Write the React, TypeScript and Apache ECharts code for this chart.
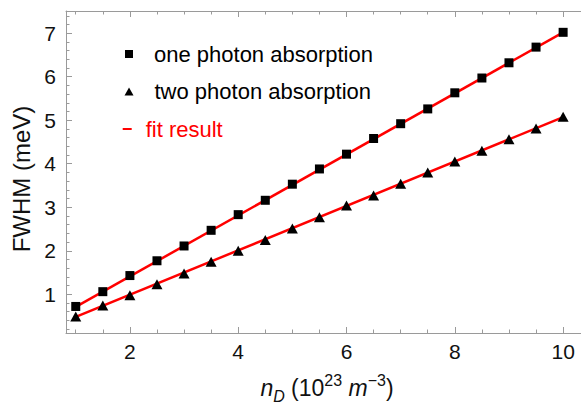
import React, { useEffect, useRef } from "react";
import * as echarts from "echarts";

const xValues = [1, 1.5, 2, 2.5, 3, 3.5, 4, 4.5, 5, 5.5, 6, 6.5, 7, 7.5, 8, 8.5, 9, 9.5, 10];
const onePhoton = [0.72, 1.06, 1.43, 1.77, 2.11, 2.47, 2.83, 3.16, 3.53, 3.88, 4.22, 4.58, 4.92, 5.26, 5.63, 5.97, 6.32, 6.68, 7.02];
const twoPhoton = [0.49, 0.74, 0.98, 1.23, 1.48, 1.75, 2.0, 2.25, 2.51, 2.77, 3.04, 3.27, 3.54, 3.8, 4.05, 4.3, 4.56, 4.81, 5.08];
const fitX = [1, 10];
const fitOne = [0.71, 7.02];
const fitTwo = [0.48, 5.07];
const xMajorTicks = [2, 4, 6, 8, 10];
const xMinorTicks = [1, 1.5, 2, 2.5, 3, 3.5, 4, 4.5, 5, 5.5, 6, 6.5, 7, 7.5, 8, 8.5, 9, 9.5, 10];
const yMajorTicks = [1, 2, 3, 4, 5, 6, 7];
const yMinorTicks = [0.2, 0.4, 0.6, 0.8, 1, 1.2, 1.4, 1.6, 1.8, 2, 2.2, 2.4, 2.6, 2.8, 3, 3.2, 3.4, 3.6, 3.8, 4, 4.2, 4.4, 4.6, 4.8, 5, 5.2, 5.4, 5.6, 5.8, 6, 6.2, 6.4, 6.6, 6.8, 7, 7.2, 7.4];

const FONT = "'Liberation Sans', Arial, Helvetica, sans-serif";
const AXIS_COLOR = "#9a9a9a";
const X_MIN = 0.82;
const X_MAX = 10.33;
const Y_MIN = 0.11;
const Y_MAX = 7.51;

export default function App() {
  const ref = useRef<HTMLDivElement>(null);
  useEffect(() => {
    if (!ref.current) return;
    const chart = echarts.init(ref.current, undefined, { renderer: "svg" });
    const axisLine = { show: true, lineStyle: { color: AXIS_COLOR, width: 1 } };
    const tick = (vals: number[], len: number) => ({
      show: true,
      inside: true,
      length: len,
      customValues: vals,
      lineStyle: { color: AXIS_COLOR, width: 1 },
    });
    const noLabel = { show: false };
    const common = { type: "value" as const, min: X_MIN, max: X_MAX, splitLine: { show: false } };
    const commonY = { type: "value" as const, min: Y_MIN, max: Y_MAX, splitLine: { show: false } };

    const option: any = {
      animation: false,
      backgroundColor: "#ffffff",
      textStyle: { fontFamily: FONT },
      grid: { left: 66, right: 0, top: 11, bottom: 74, containLabel: false },
      legend: [
        {
          left: 125,
          top: 42,
          padding: 0,
          selectedMode: false,
          itemWidth: 8,
          itemHeight: 8,
          data: [{ name: "one photon absorption", icon: "rect" }],
          textStyle: { fontFamily: FONT, fontSize: 22, color: "#000", lineHeight: 24, padding: [0, 0, 0, 16] },
        },
        {
          left: 124.5,
          top: 79.5,
          padding: 0,
          selectedMode: false,
          itemWidth: 9,
          itemHeight: 8,
          data: [{ name: "two photon absorption", icon: "triangle" }],
          textStyle: { fontFamily: FONT, fontSize: 22, color: "#000", lineHeight: 24, padding: [0, 0, 0, 16] },
        },
        {
          left: 122.7,
          top: 117,
          padding: 0,
          selectedMode: false,
          itemWidth: 9,
          itemHeight: 2,
          data: [{ name: "fit result", icon: "rect" }],
          textStyle: { fontFamily: FONT, fontSize: 22, color: "#ff0000", lineHeight: 24, padding: [0, 0, 0, 9] },
        },
      ],
      xAxis: [
        {
          ...common,
          position: "bottom",
          axisLine,
          axisTick: tick(xMajorTicks, 6),
          axisLabel: { customValues: xMajorTicks, fontSize: 21, color: "#111", margin: 8, fontFamily: FONT },
          name: "{n|n}{sub|D}{t| (10}{sup|23}{t| }{n|m}{sup|−3}{t|)}",
          nameLocation: "middle",
          nameGap: 39,
          nameTextStyle: {
            padding: [0, 0, 0, 7],
            rich: {
              t: { fontSize: 23, fontFamily: FONT, color: "#111", lineHeight: 32 },
              n: { fontSize: 23, fontFamily: FONT, fontStyle: "italic", color: "#111", lineHeight: 32 },
              sup: { fontSize: 16, fontFamily: FONT, color: "#111", lineHeight: 23, verticalAlign: "top" },
              sub: { fontSize: 16, fontFamily: FONT, fontStyle: "italic", color: "#111", lineHeight: 18, verticalAlign: "bottom" },
            },
          },
        },
        {
          ...common,
          position: "bottom",
          axisLine: { show: false },
          axisTick: tick(xMinorTicks, 3.5),
          axisLabel: noLabel,
        },
        {
          ...common,
          position: "top",
          axisLine,
          axisTick: tick(xMajorTicks, 6),
          axisLabel: noLabel,
        },
        {
          ...common,
          position: "top",
          axisLine: { show: false },
          axisTick: tick(xMinorTicks, 3.5),
          axisLabel: noLabel,
        },
      ],
      yAxis: [
        {
          ...commonY,
          position: "left",
          axisLine,
          axisTick: tick(yMajorTicks, 6),
          axisLabel: { customValues: yMajorTicks, fontSize: 21, color: "#111", margin: 10, fontFamily: FONT },
          name: "FWHM (meV)",
          nameLocation: "middle",
          nameRotate: 90,
          nameGap: 29,
          nameTextStyle: { fontSize: 24, fontFamily: FONT, color: "#111", padding: [0, 14, 0, 0] },
        },
        {
          ...commonY,
          position: "left",
          axisLine: { show: false },
          axisTick: tick(yMinorTicks, 3.5),
          axisLabel: noLabel,
        },
      ],
      series: [
        {
          name: "fit result",
          type: "line",
          data: fitX.map((x, i) => [x, fitOne[i]]),
          showSymbol: false,
          symbol: "none",
          lineStyle: { color: "#ff0000", width: 2.5 },
          itemStyle: { color: "#ff0000" },
          z: 2,
        },
        {
          name: "fit result",
          type: "line",
          data: fitX.map((x, i) => [x, fitTwo[i]]),
          showSymbol: false,
          symbol: "none",
          lineStyle: { color: "#ff0000", width: 2.5 },
          itemStyle: { color: "#ff0000" },
          z: 2,
        },
        {
          name: "one photon absorption",
          type: "scatter",
          symbol: "rect",
          symbolSize: 9,
          itemStyle: { color: "#000", opacity: 1 },
          data: xValues.map((x, i) => [x, onePhoton[i]]),
          z: 3,
        },
        {
          name: "two photon absorption",
          type: "scatter",
          symbol: "triangle",
          symbolSize: [11, 10],
          itemStyle: { color: "#000", opacity: 1 },
          data: xValues.map((x, i) => [x, twoPhoton[i]]),
          z: 3,
        },
      ],
    };
    chart.setOption(option);
    return () => chart.dispose();
  }, []);
  return (
    <div
      ref={ref}
      style={{ position: "fixed", left: 0, top: 0, width: 581, height: 409, background: "#fff" }}
    />
  );
}
